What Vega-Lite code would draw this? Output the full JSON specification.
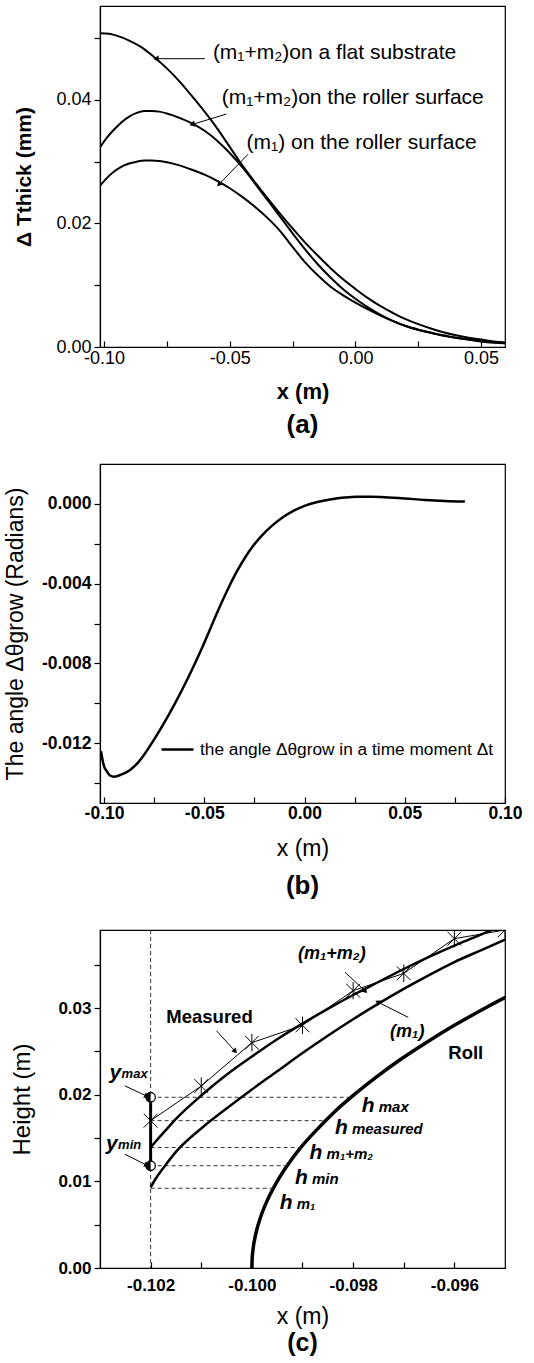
{
  "$schema": "https://vega.github.io/schema/vega-lite/v6.json",
  "padding": {"left": 3, "top": 5, "right": 2, "bottom": 2},
  "bounds": "flush",
  "spacing": 117,
  "config": {
    "font": "Liberation Sans",
    "view": {"stroke": "black", "strokeWidth": 1.2},
    "axis": {"grid": false, "domainColor": "black", "domainWidth": 1.2, "tickColor": "black", "tickWidth": 1.2, "labelColor": "black", "titleColor": "black", "labelFlush": false, "labelOverlap": false},
    "title": {"color": "black"}
  },
  "datasets": {
    "thick": [
      {"s": "flat", "x": -0.1016, "y": 0.0508}, {"s": "flat", "x": -0.098, "y": 0.0507}, {"s": "flat", "x": -0.095, "y": 0.0504}, {"s": "flat", "x": -0.09, "y": 0.0496}, {"s": "flat", "x": -0.085, "y": 0.0485}, {"s": "flat", "x": -0.08, "y": 0.0469}, {"s": "flat", "x": -0.075, "y": 0.0451}, {"s": "flat", "x": -0.07, "y": 0.043}, {"s": "flat", "x": -0.065, "y": 0.0406}, {"s": "flat", "x": -0.06, "y": 0.0381}, {"s": "flat", "x": -0.055, "y": 0.0354}, {"s": "flat", "x": -0.05, "y": 0.0324}, {"s": "flat", "x": -0.045, "y": 0.0294}, {"s": "flat", "x": -0.04, "y": 0.0267}, {"s": "flat", "x": -0.035, "y": 0.0241}, {"s": "flat", "x": -0.03, "y": 0.0216}, {"s": "flat", "x": -0.025, "y": 0.0192}, {"s": "flat", "x": -0.02, "y": 0.0169}, {"s": "flat", "x": -0.015, "y": 0.0148}, {"s": "flat", "x": -0.01, "y": 0.0128}, {"s": "flat", "x": -0.005, "y": 0.011}, {"s": "flat", "x": 0.0, "y": 0.0094}, {"s": "flat", "x": 0.005, "y": 0.0079}, {"s": "flat", "x": 0.01, "y": 0.0066}, {"s": "flat", "x": 0.015, "y": 0.0055}, {"s": "flat", "x": 0.02, "y": 0.0045}, {"s": "flat", "x": 0.025, "y": 0.0037}, {"s": "flat", "x": 0.03, "y": 0.003}, {"s": "flat", "x": 0.035, "y": 0.0024}, {"s": "flat", "x": 0.04, "y": 0.0019}, {"s": "flat", "x": 0.045, "y": 0.0015}, {"s": "flat", "x": 0.05, "y": 0.0012}, {"s": "flat", "x": 0.055, "y": 0.0009}, {"s": "flat", "x": 0.0595, "y": 0.0007},
      {"s": "m12", "x": -0.1016, "y": 0.0323}, {"s": "m12", "x": -0.099, "y": 0.0338}, {"s": "m12", "x": -0.096, "y": 0.0352}, {"s": "m12", "x": -0.093, "y": 0.0364}, {"s": "m12", "x": -0.09, "y": 0.0373}, {"s": "m12", "x": -0.087, "y": 0.0379}, {"s": "m12", "x": -0.084, "y": 0.0382}, {"s": "m12", "x": -0.081, "y": 0.0382}, {"s": "m12", "x": -0.078, "y": 0.0381}, {"s": "m12", "x": -0.075, "y": 0.0378}, {"s": "m12", "x": -0.07, "y": 0.0371}, {"s": "m12", "x": -0.065, "y": 0.0362}, {"s": "m12", "x": -0.06, "y": 0.035}, {"s": "m12", "x": -0.055, "y": 0.0334}, {"s": "m12", "x": -0.05, "y": 0.0314}, {"s": "m12", "x": -0.045, "y": 0.0291}, {"s": "m12", "x": -0.04, "y": 0.0265}, {"s": "m12", "x": -0.035, "y": 0.0238}, {"s": "m12", "x": -0.03, "y": 0.0211}, {"s": "m12", "x": -0.025, "y": 0.0184}, {"s": "m12", "x": -0.02, "y": 0.0158}, {"s": "m12", "x": -0.015, "y": 0.0134}, {"s": "m12", "x": -0.01, "y": 0.0113}, {"s": "m12", "x": -0.005, "y": 0.0094}, {"s": "m12", "x": 0.0, "y": 0.0078}, {"s": "m12", "x": 0.005, "y": 0.0064}, {"s": "m12", "x": 0.01, "y": 0.0052}, {"s": "m12", "x": 0.015, "y": 0.0042}, {"s": "m12", "x": 0.02, "y": 0.0034}, {"s": "m12", "x": 0.025, "y": 0.0028}, {"s": "m12", "x": 0.03, "y": 0.0023}, {"s": "m12", "x": 0.035, "y": 0.0019}, {"s": "m12", "x": 0.04, "y": 0.0015}, {"s": "m12", "x": 0.045, "y": 0.0012}, {"s": "m12", "x": 0.05, "y": 0.001}, {"s": "m12", "x": 0.055, "y": 0.0008}, {"s": "m12", "x": 0.0595, "y": 0.0007},
      {"s": "m1", "x": -0.1016, "y": 0.0261}, {"s": "m1", "x": -0.099, "y": 0.0273}, {"s": "m1", "x": -0.096, "y": 0.0284}, {"s": "m1", "x": -0.093, "y": 0.0292}, {"s": "m1", "x": -0.09, "y": 0.0297}, {"s": "m1", "x": -0.087, "y": 0.03}, {"s": "m1", "x": -0.084, "y": 0.0302}, {"s": "m1", "x": -0.081, "y": 0.0302}, {"s": "m1", "x": -0.078, "y": 0.0301}, {"s": "m1", "x": -0.075, "y": 0.0299}, {"s": "m1", "x": -0.07, "y": 0.0294}, {"s": "m1", "x": -0.065, "y": 0.0287}, {"s": "m1", "x": -0.06, "y": 0.0279}, {"s": "m1", "x": -0.055, "y": 0.0269}, {"s": "m1", "x": -0.05, "y": 0.0257}, {"s": "m1", "x": -0.045, "y": 0.0243}, {"s": "m1", "x": -0.04, "y": 0.0227}, {"s": "m1", "x": -0.035, "y": 0.0209}, {"s": "m1", "x": -0.03, "y": 0.0188}, {"s": "m1", "x": -0.025, "y": 0.0162}, {"s": "m1", "x": -0.02, "y": 0.0137}, {"s": "m1", "x": -0.015, "y": 0.0116}, {"s": "m1", "x": -0.01, "y": 0.0098}, {"s": "m1", "x": -0.005, "y": 0.0084}, {"s": "m1", "x": 0.0, "y": 0.0072}, {"s": "m1", "x": 0.005, "y": 0.0061}, {"s": "m1", "x": 0.01, "y": 0.0051}, {"s": "m1", "x": 0.015, "y": 0.0042}, {"s": "m1", "x": 0.02, "y": 0.0034}, {"s": "m1", "x": 0.025, "y": 0.0028}, {"s": "m1", "x": 0.03, "y": 0.0023}, {"s": "m1", "x": 0.035, "y": 0.0018}, {"s": "m1", "x": 0.04, "y": 0.0015}, {"s": "m1", "x": 0.045, "y": 0.0012}, {"s": "m1", "x": 0.05, "y": 0.0009}, {"s": "m1", "x": 0.055, "y": 0.0007}, {"s": "m1", "x": 0.0595, "y": 0.0006}
    ],
    "arrowsA": [
      {"id": "a1", "x": -0.0599, "y": 0.04667, "x2": -0.079, "y2": 0.04667},
      {"id": "a2", "x": -0.0513, "y": 0.0377, "x2": -0.0646, "y2": 0.03607},
      {"id": "a3", "x": -0.0427, "y": 0.03121, "x2": -0.054, "y2": 0.02644}
    ],
    "labelsA": [
      {"x": -0.0567, "y": 0.04764, "t": "(m₁+m₂)on a flat substrate"},
      {"x": -0.0532, "y": 0.04034, "t": "(m₁+m₂)on the roller surface"},
      {"x": -0.0433, "y": 0.03304, "t": "(m₁) on the roller surface"}
    ],
    "angleB": [
      {"s": "the angle Δθgrow in a time moment Δt", "x": -0.1015, "y": -0.0124}, {"s": "the angle Δθgrow in a time moment Δt", "x": -0.1008, "y": -0.0128}, {"s": "the angle Δθgrow in a time moment Δt", "x": -0.1, "y": -0.01315}, {"s": "the angle Δθgrow in a time moment Δt", "x": -0.0987, "y": -0.0134}, {"s": "the angle Δθgrow in a time moment Δt", "x": -0.097, "y": -0.01362}, {"s": "the angle Δθgrow in a time moment Δt", "x": -0.095, "y": -0.01368}, {"s": "the angle Δθgrow in a time moment Δt", "x": -0.0925, "y": -0.01362}, {"s": "the angle Δθgrow in a time moment Δt", "x": -0.09, "y": -0.01352}, {"s": "the angle Δθgrow in a time moment Δt", "x": -0.087, "y": -0.01334}, {"s": "the angle Δθgrow in a time moment Δt", "x": -0.084, "y": -0.01308}, {"s": "the angle Δθgrow in a time moment Δt", "x": -0.081, "y": -0.01272}, {"s": "the angle Δθgrow in a time moment Δt", "x": -0.0745, "y": -0.01173}, {"s": "the angle Δθgrow in a time moment Δt", "x": -0.068, "y": -0.01063}, {"s": "the angle Δθgrow in a time moment Δt", "x": -0.0613, "y": -0.00937}, {"s": "the angle Δθgrow in a time moment Δt", "x": -0.0546, "y": -0.00799}, {"s": "the angle Δθgrow in a time moment Δt", "x": -0.0508, "y": -0.00715}, {"s": "the angle Δθgrow in a time moment Δt", "x": -0.047, "y": -0.00626}, {"s": "the angle Δθgrow in a time moment Δt", "x": -0.0425, "y": -0.00521}, {"s": "the angle Δθgrow in a time moment Δt", "x": -0.038, "y": -0.00423}, {"s": "the angle Δθgrow in a time moment Δt", "x": -0.0338, "y": -0.0034}, {"s": "the angle Δθgrow in a time moment Δt", "x": -0.0297, "y": -0.0027}, {"s": "the angle Δθgrow in a time moment Δt", "x": -0.0255, "y": -0.00209}, {"s": "the angle Δθgrow in a time moment Δt", "x": -0.0213, "y": -0.00159}, {"s": "the angle Δθgrow in a time moment Δt", "x": -0.016, "y": -0.00108}, {"s": "the angle Δθgrow in a time moment Δt", "x": -0.0106, "y": -0.00066}, {"s": "the angle Δθgrow in a time moment Δt", "x": -0.0053, "y": -0.00034}, {"s": "the angle Δθgrow in a time moment Δt", "x": 0.0, "y": -0.0001}, {"s": "the angle Δθgrow in a time moment Δt", "x": 0.005, "y": 0.00006}, {"s": "the angle Δθgrow in a time moment Δt", "x": 0.01, "y": 0.00017}, {"s": "the angle Δθgrow in a time moment Δt", "x": 0.015, "y": 0.00026}, {"s": "the angle Δθgrow in a time moment Δt", "x": 0.02, "y": 0.00032}, {"s": "the angle Δθgrow in a time moment Δt", "x": 0.026, "y": 0.00036}, {"s": "the angle Δθgrow in a time moment Δt", "x": 0.033, "y": 0.00036}, {"s": "the angle Δθgrow in a time moment Δt", "x": 0.04, "y": 0.00033}, {"s": "the angle Δθgrow in a time moment Δt", "x": 0.05, "y": 0.00027}, {"s": "the angle Δθgrow in a time moment Δt", "x": 0.06, "y": 0.0002}, {"s": "the angle Δθgrow in a time moment Δt", "x": 0.07, "y": 0.00015}, {"s": "the angle Δθgrow in a time moment Δt", "x": 0.08, "y": 0.00012}
    ],
    "roll": [
      {"x": -0.1, "y": 0.0}, {"x": -0.099995, "y": 0.001}, {"x": -0.09998, "y": 0.002}, {"x": -0.09992, "y": 0.004}, {"x": -0.09982, "y": 0.006}, {"x": -0.09968, "y": 0.008}, {"x": -0.0995, "y": 0.01}, {"x": -0.09928, "y": 0.012}, {"x": -0.09902, "y": 0.014}, {"x": -0.09871, "y": 0.016}, {"x": -0.09837, "y": 0.018}, {"x": -0.09798, "y": 0.02}, {"x": -0.09755, "y": 0.022}, {"x": -0.09708, "y": 0.024}, {"x": -0.09656, "y": 0.026}, {"x": -0.096, "y": 0.028}, {"x": -0.09539, "y": 0.03}, {"x": -0.09474, "y": 0.032}
    ],
    "m12": [
      {"x": -0.102, "y": 0.0139}, {"x": -0.1019, "y": 0.0146}, {"x": -0.1017, "y": 0.0159}, {"x": -0.1015, "y": 0.0172}, {"x": -0.101, "y": 0.0199}, {"x": -0.1005, "y": 0.0223}, {"x": -0.1, "y": 0.0244}, {"x": -0.0995, "y": 0.0264}, {"x": -0.099, "y": 0.0282}, {"x": -0.0985, "y": 0.0299}, {"x": -0.098, "y": 0.0315}, {"x": -0.0975, "y": 0.033}, {"x": -0.097, "y": 0.0345}, {"x": -0.0965, "y": 0.0359}, {"x": -0.096, "y": 0.0372}, {"x": -0.0955, "y": 0.0384}, {"x": -0.095, "y": 0.0397}
    ],
    "m1": [
      {"x": -0.102, "y": 0.0093}, {"x": -0.1019, "y": 0.0103}, {"x": -0.10169, "y": 0.012}, {"x": -0.1015, "y": 0.0134}, {"x": -0.101, "y": 0.0161}, {"x": -0.1005, "y": 0.0184}, {"x": -0.1, "y": 0.0206}, {"x": -0.0995, "y": 0.0227}, {"x": -0.099, "y": 0.0248}, {"x": -0.0985, "y": 0.0268}, {"x": -0.098, "y": 0.0287}, {"x": -0.0975, "y": 0.0305}, {"x": -0.097, "y": 0.0322}, {"x": -0.0965, "y": 0.0338}, {"x": -0.096, "y": 0.0353}, {"x": -0.0955, "y": 0.0366}, {"x": -0.095, "y": 0.0379}
    ],
    "measured": [
      {"x": -0.102, "y": 0.017}, {"x": -0.101, "y": 0.021}, {"x": -0.1, "y": 0.026}, {"x": -0.099, "y": 0.028}, {"x": -0.098, "y": 0.032}, {"x": -0.097, "y": 0.034}, {"x": -0.096, "y": 0.038}, {"x": -0.095, "y": 0.039}
    ],
    "hlines": [
      {"y": 0.0197, "x": -0.102, "x2": -0.09804}, {"y": 0.017, "x": -0.102, "x2": -0.09855}, {"y": 0.0139, "x": -0.102, "x2": -0.09903}, {"y": 0.0118, "x": -0.102, "x2": -0.0993}, {"y": 0.0092, "x": -0.102, "x2": -0.09958}
    ],
    "vline": [{"x": -0.102}],
    "bar": [{"x": -0.102, "y": 0.0118, "y2": 0.0197}],
    "circles": [{"x": -0.102, "y": 0.0197}, {"x": -0.102, "y": 0.0118}],
    "arrowsC": [
      {"id": "c1", "x": -0.1007, "y": 0.02738, "x2": -0.10034, "y2": 0.02507},
      {"id": "c2", "x": -0.09816, "y": 0.03412, "x2": -0.09777, "y2": 0.032},
      {"id": "c3", "x": -0.09691, "y": 0.02892, "x2": -0.0975, "y2": 0.03065},
      {"id": "c4", "x": -0.10251, "y": 0.02102, "x2": -0.10209, "y2": 0.01987},
      {"id": "c5", "x": -0.10251, "y": 0.01313, "x2": -0.10209, "y2": 0.0119}
    ],
    "labelsC": [
      {"k": "b", "x": -0.10169, "y": 0.029, "t": "Measured"},
      {"k": "b", "x": -0.09612, "y": 0.02476, "t": "Roll"},
      {"k": "bi", "x": -0.09909, "y": 0.03623, "t": "(m₁+m₂)"},
      {"k": "bi", "x": -0.09727, "y": 0.02719, "t": "(m₁)"}
    ],
    "hlabels": [
      {"k": "h", "x": -0.09783, "y": 0.01864, "main": "h", "sub": "max"},
      {"k": "h", "x": -0.09836, "y": 0.01621, "main": "h", "sub": "measured"},
      {"k": "h", "x": -0.09886, "y": 0.01332, "main": "h", "sub": "m₁+m₂"},
      {"k": "h", "x": -0.09915, "y": 0.01044, "main": "h", "sub": "min"},
      {"k": "h", "x": -0.09945, "y": 0.00755, "main": "h", "sub": "m₁"},
      {"k": "y", "x": -0.10281, "y": 0.02245, "main": "y", "sub": "max"},
      {"k": "y", "x": -0.10288, "y": 0.01429, "main": "y", "sub": "min"}
    ]
  },
  "vconcat": [
    {
      "width": 405, "height": 341,
      "title": {"text": "(a)", "orient": "bottom", "fontSize": 26, "fontWeight": "bold", "offset": 10},
      "layer": [
        {
          "data": {"name": "thick"},
          "mark": {"type": "line", "color": "black", "strokeWidth": 2, "interpolate": "monotone", "clip": true},
          "encoding": {
            "x": {"field": "x", "type": "quantitative", "scale": {"domain": [-0.1016, 0.0595], "nice": false, "zero": false},
              "axis": {"title": "x (m)", "titleFontSize": 22, "titleFontWeight": "bold", "titlePadding": 14, "labelFontSize": 18, "tickSize": -6, "labelPadding": 8,
                "values": [-0.1, -0.075, -0.05, -0.025, 0, 0.025, 0.05],
                "labelExpr": "round(datum.value*1000) % 50 == 0 ? replace(format(datum.value, '.2f'), '−', '-') : ''"}},
            "y": {"field": "y", "type": "quantitative", "scale": {"domain": [0, 0.0552], "nice": false, "zero": false},
              "axis": {"title": "Δ  Tthick (mm)", "titleFontSize": 21, "titleFontWeight": "bold", "titleX": -70, "titleBaseline": "alphabetic", "labelFontSize": 18, "tickSize": 6, "labelPadding": 3,
                "values": [0, 0.01, 0.02, 0.03, 0.04, 0.05],
                "labelExpr": "round(datum.value*100) % 2 == 0 ? format(datum.value, '.2f') : ''"}},
            "detail": {"field": "s", "type": "nominal"}
          }
        },
        {
          "data": {"name": "arrowsA"},
          "mark": {"type": "rule", "color": "black", "strokeWidth": 1},
          "encoding": {"x": {"field": "x", "type": "quantitative"}, "y": {"field": "y", "type": "quantitative"}, "x2": {"field": "x2"}, "y2": {"field": "y2"}}
        },
        {
          "data": {"name": "arrowsA"}, "transform": [{"filter": "datum.id == 'a1'"}],
          "mark": {"type": "point", "shape": "triangle", "filled": true, "color": "black", "opacity": 1, "size": 40, "angle": 270},
          "encoding": {"x": {"field": "x2", "type": "quantitative"}, "y": {"field": "y2", "type": "quantitative"}}
        },
        {
          "data": {"name": "arrowsA"}, "transform": [{"filter": "datum.id == 'a2'"}],
          "mark": {"type": "point", "shape": "triangle", "filled": true, "color": "black", "opacity": 1, "size": 40, "angle": 253},
          "encoding": {"x": {"field": "x2", "type": "quantitative"}, "y": {"field": "y2", "type": "quantitative"}}
        },
        {
          "data": {"name": "arrowsA"}, "transform": [{"filter": "datum.id == 'a3'"}],
          "mark": {"type": "point", "shape": "triangle", "filled": true, "color": "black", "opacity": 1, "size": 40, "angle": 224},
          "encoding": {"x": {"field": "x2", "type": "quantitative"}, "y": {"field": "y2", "type": "quantitative"}}
        },
        {
          "data": {"name": "labelsA"},
          "mark": {"type": "text", "align": "left", "baseline": "middle", "fontSize": 21, "color": "black"},
          "encoding": {"x": {"field": "x", "type": "quantitative"}, "y": {"field": "y", "type": "quantitative"}, "text": {"field": "t"}}
        }
      ]
    },
    {
      "bounds": "flush",
      "spacing": 127,
      "vconcat": [
        {
          "width": 405, "height": 339,
          "title": {"text": "(b)", "orient": "bottom", "fontSize": 26, "fontWeight": "bold", "offset": 12},
          "data": {"name": "angleB"},
          "mark": {"type": "line", "strokeWidth": 2.5, "interpolate": "monotone", "clip": true},
          "encoding": {
            "x": {"field": "x", "type": "quantitative", "scale": {"domain": [-0.102, 0.1], "nice": false, "zero": false},
              "axis": {"title": "x (m)", "titleFontSize": 23, "titleFontWeight": "normal", "titlePadding": 16, "labelFontSize": 17.5, "labelFontWeight": "bold", "tickSize": -6, "labelPadding": 7,
                "values": [-0.1, -0.075, -0.05, -0.025, 0, 0.025, 0.05, 0.075, 0.1],
                "labelExpr": "round(datum.value*1000) % 50 == 0 ? replace(format(datum.value, '.2f'), '−', '-') : ''"}},
            "y": {"field": "y", "type": "quantitative", "scale": {"domain": [-0.015, 0.002], "nice": false, "zero": false},
              "axis": {"title": "The angle Δθgrow (Radians)", "titleFontSize": 23, "titleFontWeight": "normal", "titleX": -78, "titleBaseline": "alphabetic", "labelFontSize": 17.5, "labelFontWeight": "bold", "tickSize": 6, "labelPadding": 3,
                "values": [-0.014, -0.012, -0.01, -0.008, -0.006, -0.004, -0.002, 0],
                "labelExpr": "round(datum.value*1000) % 4 == 0 ? replace(format(datum.value, '.3f'), '−', '-') : ''"}},
            "color": {"field": "s", "type": "nominal", "scale": {"range": ["black"]},
              "legend": {"orient": "none", "legendX": 60, "legendY": 726, "title": null, "symbolType": "stroke", "symbolSize": 1024, "symbolStrokeWidth": 2.5, "labelFontSize": 17.3, "labelOffset": 5, "padding": 0, "labelLimit": 500, "labelColor": "black"}}
          }
        },
        {
          "width": 405, "height": 338,
          "title": {"text": "(c)", "orient": "bottom", "fontSize": 25, "fontWeight": "bold", "offset": 3},
          "layer": [
            {
              "data": {"name": "roll"},
              "mark": {"type": "line", "color": "black", "strokeWidth": 3.5, "interpolate": "monotone", "clip": true},
              "encoding": {
                "x": {"field": "x", "type": "quantitative", "scale": {"domain": [-0.103, -0.095], "nice": false, "zero": false},
                  "axis": {"title": "x (m)", "titleFontSize": 23, "titleFontWeight": "normal", "titlePadding": 12, "labelFontSize": 17, "labelFontWeight": "bold", "tickSize": -6, "labelPadding": 15,
                    "values": [-0.102, -0.101, -0.1, -0.099, -0.098, -0.097, -0.096],
                    "labelExpr": "round(datum.value*1000) % 2 == 0 ? replace(format(datum.value, '.3f'), '−', '-') : ''"}},
                "y": {"field": "y", "type": "quantitative", "scale": {"domain": [0, 0.039], "nice": false, "zero": false},
                  "axis": {"title": "Height (m)", "titleFontSize": 24, "titleFontWeight": "normal", "titleX": -71, "titleBaseline": "alphabetic", "labelFontSize": 17, "labelFontWeight": "bold", "tickSize": 6, "labelPadding": 3,
                    "values": [0, 0.005, 0.01, 0.015, 0.02, 0.025, 0.03, 0.035],
                    "labelExpr": "round(datum.value*1000) % 10 == 0 ? format(datum.value, '.2f') : ''"}}
              }
            },
            {
              "data": {"name": "vline"},
              "mark": {"type": "rule", "color": "#333333", "strokeWidth": 1, "strokeDash": [4, 3]},
              "encoding": {"x": {"field": "x", "type": "quantitative"}}
            },
            {
              "data": {"name": "hlines"},
              "mark": {"type": "rule", "color": "#333333", "strokeWidth": 1, "strokeDash": [4, 3]},
              "encoding": {"x": {"field": "x", "type": "quantitative"}, "x2": {"field": "x2"}, "y": {"field": "y", "type": "quantitative"}}
            },
            {
              "data": {"name": "m12"},
              "mark": {"type": "line", "color": "black", "strokeWidth": 2.5, "interpolate": "monotone", "clip": true},
              "encoding": {"x": {"field": "x", "type": "quantitative"}, "y": {"field": "y", "type": "quantitative"}}
            },
            {
              "data": {"name": "m1"},
              "mark": {"type": "line", "color": "black", "strokeWidth": 2.5, "interpolate": "monotone", "clip": true},
              "encoding": {"x": {"field": "x", "type": "quantitative"}, "y": {"field": "y", "type": "quantitative"}}
            },
            {
              "data": {"name": "measured"},
              "mark": {"type": "line", "color": "black", "strokeWidth": 1, "clip": true},
              "encoding": {"x": {"field": "x", "type": "quantitative"}, "y": {"field": "y", "type": "quantitative"}}
            },
            {
              "data": {"name": "measured"},
              "mark": {"type": "point", "shape": "M0,-1L0,1M-0.8,-0.8L0.8,0.8M-0.8,0.8L0.8,-0.8", "filled": false, "color": "black", "opacity": 1, "strokeWidth": 1, "size": 300, "clip": true},
              "encoding": {"x": {"field": "x", "type": "quantitative"}, "y": {"field": "y", "type": "quantitative"}}
            },
            {
              "data": {"name": "bar"},
              "mark": {"type": "rule", "color": "black", "strokeWidth": 3},
              "encoding": {"x": {"field": "x", "type": "quantitative"}, "y": {"field": "y", "type": "quantitative"}, "y2": {"field": "y2"}}
            },
            {
              "data": {"name": "circles"},
              "mark": {"type": "point", "shape": "circle", "filled": true, "fill": "white", "stroke": "black", "strokeWidth": 1.3, "opacity": 1, "size": 90},
              "encoding": {"x": {"field": "x", "type": "quantitative"}, "y": {"field": "y", "type": "quantitative"}}
            },
            {
              "data": {"name": "circles"},
              "mark": {"type": "point", "shape": "M0,-1A1,1,0,0,0,0,1Z", "filled": true, "color": "black", "opacity": 1, "size": 90},
              "encoding": {"x": {"field": "x", "type": "quantitative"}, "y": {"field": "y", "type": "quantitative"}}
            },
            {
              "data": {"name": "arrowsC"},
              "mark": {"type": "rule", "color": "black", "strokeWidth": 1},
              "encoding": {"x": {"field": "x", "type": "quantitative"}, "y": {"field": "y", "type": "quantitative"}, "x2": {"field": "x2"}, "y2": {"field": "y2"}}
            },
            {
              "data": {"name": "arrowsC"}, "transform": [{"filter": "datum.id == 'c1'"}],
              "mark": {"type": "point", "shape": "triangle", "filled": true, "color": "black", "opacity": 1, "size": 35, "angle": 138},
              "encoding": {"x": {"field": "x2", "type": "quantitative"}, "y": {"field": "y2", "type": "quantitative"}}
            },
            {
              "data": {"name": "arrowsC"}, "transform": [{"filter": "datum.id == 'c2'"}],
              "mark": {"type": "point", "shape": "triangle", "filled": true, "color": "black", "opacity": 1, "size": 35, "angle": 133},
              "encoding": {"x": {"field": "x2", "type": "quantitative"}, "y": {"field": "y2", "type": "quantitative"}}
            },
            {
              "data": {"name": "arrowsC"}, "transform": [{"filter": "datum.id == 'c3'"}],
              "mark": {"type": "point", "shape": "triangle", "filled": true, "color": "black", "opacity": 1, "size": 35, "angle": 297},
              "encoding": {"x": {"field": "x2", "type": "quantitative"}, "y": {"field": "y2", "type": "quantitative"}}
            },
            {
              "data": {"name": "arrowsC"}, "transform": [{"filter": "datum.id == 'c4' || datum.id == 'c5'"}],
              "mark": {"type": "point", "shape": "triangle", "filled": true, "color": "black", "opacity": 1, "size": 35, "angle": 116},
              "encoding": {"x": {"field": "x2", "type": "quantitative"}, "y": {"field": "y2", "type": "quantitative"}}
            },
            {
              "data": {"name": "labelsC"}, "transform": [{"filter": "datum.k == 'b'"}],
              "mark": {"type": "text", "align": "left", "baseline": "middle", "fontSize": 18.5, "fontWeight": "bold", "color": "black"},
              "encoding": {"x": {"field": "x", "type": "quantitative"}, "y": {"field": "y", "type": "quantitative"}, "text": {"field": "t"}}
            },
            {
              "data": {"name": "labelsC"}, "transform": [{"filter": "datum.k == 'bi'"}],
              "mark": {"type": "text", "align": "left", "baseline": "middle", "fontSize": 18, "fontWeight": "bold", "fontStyle": "italic", "color": "black"},
              "encoding": {"x": {"field": "x", "type": "quantitative"}, "y": {"field": "y", "type": "quantitative"}, "text": {"field": "t"}}
            },
            {
              "data": {"name": "hlabels"},
              "mark": {"type": "text", "align": "left", "baseline": "middle", "fontSize": 21, "fontWeight": "bold", "fontStyle": "italic", "color": "black"},
              "encoding": {"x": {"field": "x", "type": "quantitative"}, "y": {"field": "y", "type": "quantitative"}, "text": {"field": "main"}}
            },
            {
              "data": {"name": "hlabels"}, "transform": [{"filter": "datum.k == 'h'"}],
              "mark": {"type": "text", "align": "left", "baseline": "middle", "fontSize": 15, "fontWeight": "bold", "fontStyle": "italic", "color": "black", "dx": 17, "dy": 1},
              "encoding": {"x": {"field": "x", "type": "quantitative"}, "y": {"field": "y", "type": "quantitative"}, "text": {"field": "sub"}}
            },
            {
              "data": {"name": "hlabels"}, "transform": [{"filter": "datum.k == 'y'"}],
              "mark": {"type": "text", "align": "left", "baseline": "middle", "fontSize": 13, "fontWeight": "bold", "fontStyle": "italic", "color": "black", "dx": 12, "dy": 1},
              "encoding": {"x": {"field": "x", "type": "quantitative"}, "y": {"field": "y", "type": "quantitative"}, "text": {"field": "sub"}}
            }
          ]
        }
      ]
    }
  ]
}
